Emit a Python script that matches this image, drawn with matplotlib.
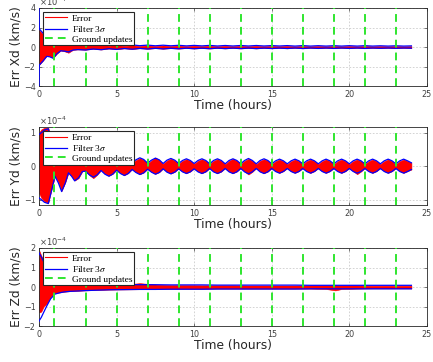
import matplotlib
matplotlib.use("Agg")
import numpy as np
import matplotlib.pyplot as plt
from matplotlib.lines import Line2D
from matplotlib.font_manager import FontProperties

# velocity errors in units of 1e-4 km/s, time in hours
GROUND_T = [1, 3, 5, 7, 9, 11, 13, 15, 17, 19, 21, 23]

T_X = [0.0, 0.02, 0.25, 0.5, 0.7, 0.92, 1.15, 1.4, 1.65, 1.9, 2.2, 2.5,
       3.0, 3.5, 4.0, 4.5, 5.0, 5.5, 6.0, 6.5, 7.0, 7.5, 8.0, 8.5,
       9.0, 9.5, 10.0, 10.5, 11.0, 11.5, 12.0, 12.5, 13.0, 13.5, 14.0, 14.5,
       15.0, 15.5, 16.0, 16.5, 17.0, 17.5, 18.0, 18.5, 19.0, 19.5, 20.0, 20.5,
       21.0, 21.5, 22.0, 22.5, 23.0, 23.5, 24.0]
SIG_X = [4.5, 1.85, 1.45, 0.95, 1.0, 1.15, 0.7, 0.38, 0.42, 0.5, 0.3, 0.26,
         0.3, 0.2, 0.27, 0.17, 0.24, 0.15, 0.22, 0.14, 0.2, 0.13, 0.19, 0.13,
         0.18, 0.12, 0.17, 0.12, 0.17, 0.11, 0.16, 0.11, 0.16, 0.11, 0.16, 0.11,
         0.15, 0.11, 0.15, 0.1, 0.15, 0.1, 0.14, 0.1, 0.14, 0.1, 0.14, 0.1,
         0.14, 0.1, 0.13, 0.1, 0.13, 0.1, 0.12]
ERR_X_HI = [1.75, 1.7, 1.35, 0.88, 0.92, 1.05, 0.62, 0.33, 0.38, 0.45, 0.26, 0.22,
            0.26, 0.16, 0.23, 0.14, 0.2, 0.12, 0.18, 0.11, 0.17, 0.1, 0.16, 0.1,
            0.15, 0.09, 0.14, 0.09, 0.14, 0.08, 0.13, 0.08, 0.13, 0.08, 0.13, 0.08,
            0.12, 0.08, 0.12, 0.07, 0.12, 0.07, 0.11, 0.07, 0.11, 0.07, 0.11, 0.07,
            0.11, 0.07, 0.1, 0.07, 0.1, 0.07, 0.09]
ERR_X_LO = [-1.9, -1.8, -1.4, -0.9, -0.95, -1.1, -0.68, -0.36, -0.44, -0.58, -0.28, -0.24,
            -0.27, -0.17, -0.25, -0.15, -0.22, -0.13, -0.2, -0.12, -0.18, -0.11, -0.17, -0.11,
            -0.16, -0.1, -0.15, -0.1, -0.15, -0.09, -0.14, -0.09, -0.14, -0.09, -0.14, -0.09,
            -0.13, -0.09, -0.13, -0.08, -0.13, -0.08, -0.12, -0.08, -0.12, -0.08, -0.12, -0.08,
            -0.12, -0.08, -0.11, -0.08, -0.11, -0.08, -0.1]

T_Y = [0.0, 0.15, 0.35, 0.6, 0.8, 1.03, 1.25, 1.46, 1.7, 1.9, 2.1, 2.3, 2.55, 2.8,
       3.0, 3.25, 3.5, 3.75, 4.0, 4.25, 4.5, 4.75, 5.0, 5.25, 5.5, 5.75,
       6.0, 6.25, 6.5, 6.75, 7.0, 7.25, 7.5, 7.75, 8.0, 8.25, 8.5, 8.75,
       9.0, 9.25, 9.5, 9.75, 10.0, 10.25, 10.5, 10.75, 11.0, 11.25, 11.5, 11.75,
       12.0, 12.25, 12.5, 12.75, 13.0, 13.25, 13.5, 13.75, 14.0, 14.25, 14.5, 14.75,
       15.0, 15.25, 15.5, 15.75, 16.0, 16.25, 16.5, 16.75, 17.0, 17.25, 17.5, 17.75,
       18.0, 18.25, 18.5, 18.75, 19.0, 19.25, 19.5, 19.75, 20.0, 20.25, 20.5, 20.75,
       21.0, 21.25, 21.5, 21.75, 22.0, 22.25, 22.5, 22.75, 23.0, 23.25, 23.5, 23.75,
       24.0]
SIG_Y = [0.95, 1.0, 1.08, 1.12, 0.75, 0.3, 0.5, 0.76, 0.5, 0.2, 0.3, 0.44, 0.35, 0.16,
         0.15, 0.26, 0.33, 0.26, 0.13, 0.24, 0.3, 0.24, 0.12, 0.22, 0.28, 0.22,
         0.1, 0.19, 0.25, 0.2, 0.09, 0.18, 0.24, 0.19, 0.08, 0.18, 0.23, 0.18,
         0.08, 0.17, 0.22, 0.17, 0.08, 0.17, 0.22, 0.17, 0.07, 0.17, 0.22, 0.17,
         0.07, 0.17, 0.22, 0.17, 0.07, 0.17, 0.23, 0.17, 0.07, 0.17, 0.22, 0.17,
         0.07, 0.16, 0.21, 0.16, 0.07, 0.16, 0.21, 0.16, 0.07, 0.16, 0.21, 0.16,
         0.07, 0.16, 0.21, 0.16, 0.07, 0.16, 0.21, 0.16, 0.07, 0.16, 0.21, 0.16,
         0.07, 0.16, 0.21, 0.16, 0.07, 0.16, 0.21, 0.16, 0.07, 0.16, 0.21, 0.16,
         0.1]
ERR_Y_HI = [1.0, 1.1, 1.15, 1.15, 0.8, 0.35, 0.52, 0.74, 0.48, 0.22, 0.3, 0.42, 0.33, 0.17,
            0.14, 0.25, 0.32, 0.25, 0.12, 0.23, 0.29, 0.23, 0.11, 0.21, 0.27, 0.21,
            0.09, 0.18, 0.24, 0.19, 0.08, 0.17, 0.26, 0.18, 0.07, 0.17, 0.22, 0.17,
            0.07, 0.16, 0.21, 0.16, 0.07, 0.16, 0.21, 0.16, 0.06, 0.16, 0.21, 0.16,
            0.06, 0.16, 0.22, 0.16, 0.06, 0.16, 0.22, 0.16, 0.06, 0.16, 0.21, 0.16,
            0.06, 0.15, 0.2, 0.15, 0.06, 0.15, 0.2, 0.15, 0.06, 0.15, 0.2, 0.15,
            0.06, 0.15, 0.2, 0.15, 0.06, 0.15, 0.2, 0.15, 0.06, 0.15, 0.2, 0.15,
            0.06, 0.15, 0.2, 0.15, 0.06, 0.15, 0.2, 0.15, 0.06, 0.15, 0.2, 0.15,
            0.1]
ERR_Y_LO = [-0.8, -0.95, -1.05, -1.1, -0.72, -0.3, -0.48, -0.74, -0.48, -0.2, -0.3, -0.43, -0.36, -0.15,
            -0.15, -0.27, -0.36, -0.26, -0.12, -0.23, -0.29, -0.23, -0.11, -0.21, -0.27, -0.21,
            -0.09, -0.18, -0.24, -0.19, -0.08, -0.17, -0.23, -0.18, -0.07, -0.17, -0.22, -0.17,
            -0.07, -0.16, -0.21, -0.16, -0.07, -0.16, -0.21, -0.16, -0.06, -0.16, -0.21, -0.16,
            -0.06, -0.16, -0.21, -0.16, -0.06, -0.16, -0.25, -0.17, -0.06, -0.16, -0.21, -0.16,
            -0.06, -0.15, -0.2, -0.15, -0.06, -0.15, -0.2, -0.15, -0.06, -0.15, -0.2, -0.15,
            -0.06, -0.15, -0.2, -0.15, -0.06, -0.15, -0.2, -0.15, -0.06, -0.15, -0.24, -0.16,
            -0.06, -0.15, -0.2, -0.15, -0.06, -0.15, -0.2, -0.15, -0.06, -0.15, -0.2, -0.15,
            -0.1]

T_Z = [0.0, 0.03, 0.15, 0.3, 0.5, 0.75, 1.03, 1.3, 1.6, 2.0, 2.5, 3.0, 3.7, 4.5,
       5.5, 6.5, 7.5, 8.5, 9.5, 10.5, 11.5, 12.5, 13.5, 14.5, 15.5, 16.5, 17.5,
       18.5, 19.1, 19.5, 20.5, 21.5, 22.5, 23.5, 24.0]
SIG_Z = [1.75, 1.7, 1.55, 1.3, 0.97, 0.6, 0.36, 0.3, 0.25, 0.22, 0.2, 0.18, 0.16, 0.14,
         0.13, 0.12, 0.12, 0.11, 0.11, 0.11, 0.1, 0.1, 0.1, 0.1, 0.1, 0.1, 0.09,
         0.09, 0.09, 0.09, 0.09, 0.09, 0.09, 0.09, 0.09]
ERR_Z_HI = [1.5, 1.85, 1.6, 1.4, 1.05, 0.55, 0.25, 0.22, 0.2, 0.18, 0.17, 0.16, 0.15, 0.14,
            0.13, 0.2, 0.13, 0.1, 0.1, 0.09, 0.09, 0.09, 0.08, 0.08, 0.08, 0.08, 0.08,
            0.08, 0.08, 0.08, 0.08, 0.07, 0.07, 0.07, 0.07]
ERR_Z_LO = [-1.2, -1.3, -1.25, -1.0, -0.85, -0.5, -0.3, -0.28, -0.24, -0.21, -0.19, -0.17, -0.15, -0.13,
            -0.12, -0.11, -0.1, -0.09, -0.09, -0.09, -0.08, -0.08, -0.08, -0.08, -0.08, -0.08, -0.08,
            -0.1, -0.17, -0.1, -0.08, -0.07, -0.07, -0.07, -0.07]

PANELS = [
    ("Err Xd (km/s)", T_X, SIG_X, ERR_X_HI, ERR_X_LO, 4.0, [-4, -2, 0, 2, 4]),
    ("Err Yd (km/s)", T_Y, SIG_Y, ERR_Y_HI, ERR_Y_LO, 1.17, [-1, 0, 1]),
    ("Err Zd (km/s)", T_Z, SIG_Z, ERR_Z_HI, ERR_Z_LO, 2.0, [-2, -1, 0, 1, 2]),
]

AX_BOTTOMS = [0.762, 0.433, 0.099]
AX_HEIGHT = 0.216
TICK_COLOR = "#404040"
GREEN = "#2fe62f"


def draw_panel(ax, ylabel, t, sig, err_hi, err_lo, ylim, yticks):
    t = np.array(t)
    sig = np.array(sig)

    ax.fill_between(t, err_lo, err_hi, color="red", lw=0.4, zorder=2)
    ax.plot(t, sig, color="#0000ff", lw=0.9, zorder=3)
    ax.plot(t, -sig, color="#0000ff", lw=0.9, zorder=3)

    for i, tg in enumerate(GROUND_T):
        ax.axvline(tg, color=GREEN, lw=1.4, ls=(0, (4, 2.6)), zorder=4)

    ax.set_xlim(0, 25)
    ax.set_ylim(-ylim, ylim)
    ax.set_xticks([0, 5, 10, 15, 20, 25])
    ax.set_yticks(yticks)
    ax.grid(True, color="#cccccc", lw=0.6, ls=(0, (2, 2)), zorder=0)
    ax.set_axisbelow(True)

    ax.tick_params(direction="in", length=2.5, width=0.5, labelsize=5.8,
                   colors=TICK_COLOR, top=True, right=True, pad=2.5)
    for sp in ax.spines.values():
        sp.set_color("#262626")
        sp.set_linewidth(0.6)

    ax.set_ylabel(ylabel, fontsize=8.8, color="#262626", labelpad=1)
    ax.set_xlabel("Time (hours)", fontsize=8.8, color="#262626", labelpad=0)
    ax.text(0.0, 1.004, r"$\times10^{-4}$", transform=ax.transAxes,
            fontsize=6, color=TICK_COLOR, ha="left", va="bottom")

    handles = [
        Line2D([], [], color="red", lw=0.8),
        Line2D([], [], color="#0000ff", lw=0.9),
        Line2D([], [], color=GREEN, lw=1.4, ls=(0, (4, 2.6))),
    ]
    labels = ["Error", r"Filter 3$\sigma$", "Ground updates"]
    leg = ax.legend(handles, labels, loc="upper left",
                    prop=FontProperties(family="Liberation Serif", size=6.8,
                                        math_fontfamily="stix"),
                    fancybox=False, framealpha=1, edgecolor="#262626",
                    borderaxespad=0.45, borderpad=0.2, handlelength=2.3,
                    handletextpad=0.5, labelspacing=0.12)
    leg.get_frame().set_linewidth(0.8)
    leg.set_zorder(10)


fig = plt.figure(figsize=(4.33, 3.62), dpi=100)

for (ylabel, t, sig, hi, lo, ylim, yticks), bottom in zip(PANELS, AX_BOTTOMS):
    ax = fig.add_axes([0.09, bottom, 0.896, AX_HEIGHT])
    draw_panel(ax, ylabel, t, sig, hi, lo, ylim, yticks)

fig.savefig("out.png", dpi=100)
